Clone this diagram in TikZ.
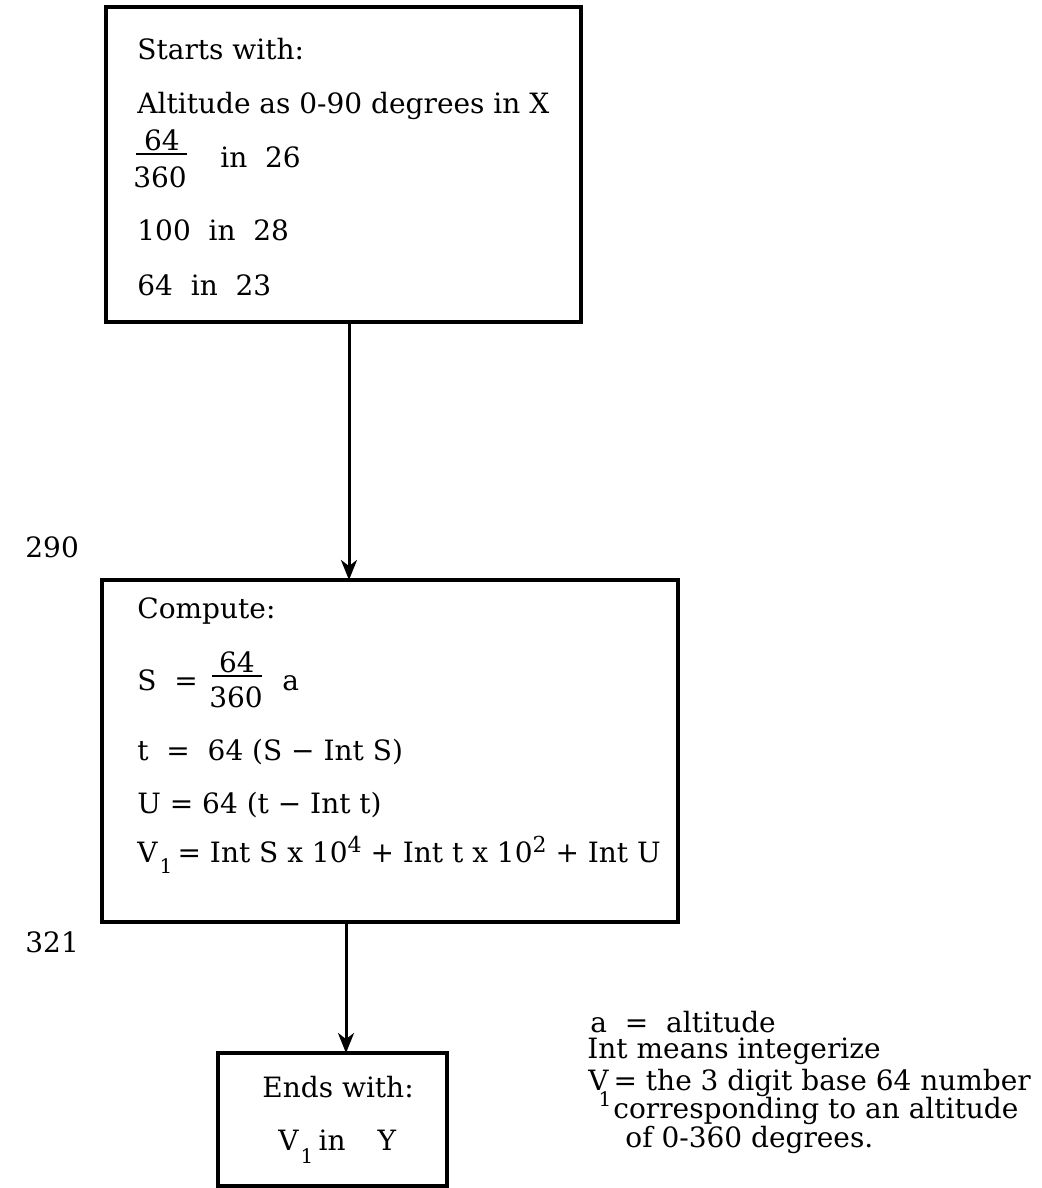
\documentclass[tikz,border=0pt]{standalone}
\usepackage{fontspec}
\setmainfont{DejaVu Serif}
\usetikzlibrary{arrows.meta,fit}
\newcommand{\sbone}[1]{\raisebox{#1}{\fontsize{10}{10}\selectfont 1}}
\newcommand{\spx}[1]{\raisebox{5pt}{\fontsize{11}{11}\selectfont #1}}
\tikzset{
  x=0.5pt, y=-0.5pt,
  box/.style={draw, line width=2pt, inner sep=0pt, outer sep=0pt},
  txt/.style={anchor=base west, inner sep=0pt, font=\fontsize{14}{17}\selectfont},
  ctxt/.style={anchor=base, inner sep=0pt, font=\fontsize{14}{17}\selectfont},
  arr/.style={line width=1.5pt, -{Stealth[length=10pt,width=8pt,inset=3pt]}},
  frbar/.style={line width=1pt}
}
\begin{document}
\begin{tikzpicture}
\useasboundingbox (0,0) rectangle (1041,1188);
% boxes
\node (b1) [box, fit={(106,7) (581,322)}] {};
\node (b2) [box, fit={(102,580) (678,922)}] {};
\node (b3) [box, fit={(218,1053) (447,1186)}] {};
% arrows
\coordinate (a1) at (349,0);
\coordinate (a2) at (346,0);
\draw[arr] (b1.south -| a1) -- (b2.north -| a1);
\draw[arr] (b2.south -| a2) -- (b3.north -| a2);
% box 1 text
\node (s1) [txt] at (137,60) {Starts with:};
\node (s2) [txt] at (137,113) {Altitude as 0-90 degrees in X};
\node (s3n) [ctxt] at (162,150) {64};
\node (s3d) [ctxt] at (160,187) {360};
\coordinate (s3l) at (136,154);
\coordinate (s3r) at (187,154);
\draw[frbar] (s3l) -- (s3r);
\node (s3) [txt] at (220,167) {in\ \ 26};
\node (s4) [txt] at (137,240) {100\ \ in\ \ 28};
\node (s5) [txt] at (137,295) {64\ \ in\ \ 23};
% box 2 text
\node (c1) [txt] at (137,618) {Compute:};
\node (c2) [txt] at (137,690) {S\ \ =};
\node (c2n) [ctxt] at (237,672) {64};
\node (c2d) [ctxt] at (236,707) {360};
\coordinate (c2l) at (212,676);
\coordinate (c2r) at (262,676);
\draw[frbar] (c2l) -- (c2r);
\node (c2a) [txt] at (282,690) {a};
\node (c3) [txt] at (137,760) {t\ \ =\ \ 64 (S − Int S)};
\node (c4) [txt] at (137,813) {U = 64 (t − Int t)};
\node (c5) [txt] at (137,862) {V\rlap{\kern1pt\sbone{-5.5pt}}\kern10pt= Int S x 10\spx{4} + Int t x 10\spx{2} + Int U};
% box 3 text
\node (e1) [txt] at (262,1097) {Ends with:};
\node (e2) [txt] at (278,1150) {V\rlap{\kern1pt\sbone{-6.5pt}}\kern10pt in\kern16pt Y};
% side labels
\node (l290) [txt] at (25,557) {290};
\node (l321) [txt] at (25,952) {321};
% notes
\node (n1) [txt] at (590,1032) {a\ \ =\ \ altitude};
\node (n2) [txt] at (587,1058) {Int means integerize};
\node (n3) [txt] at (588,1090) {V\rlap{\kern-5pt\sbone{-8pt}}\kern2.5pt= the 3 digit base 64 number};
\node (n4) [txt] at (613,1118) {corresponding to an altitude};
\node (n5) [txt] at (625,1147) {of 0-360 degrees.};
\end{tikzpicture}
\end{document}
